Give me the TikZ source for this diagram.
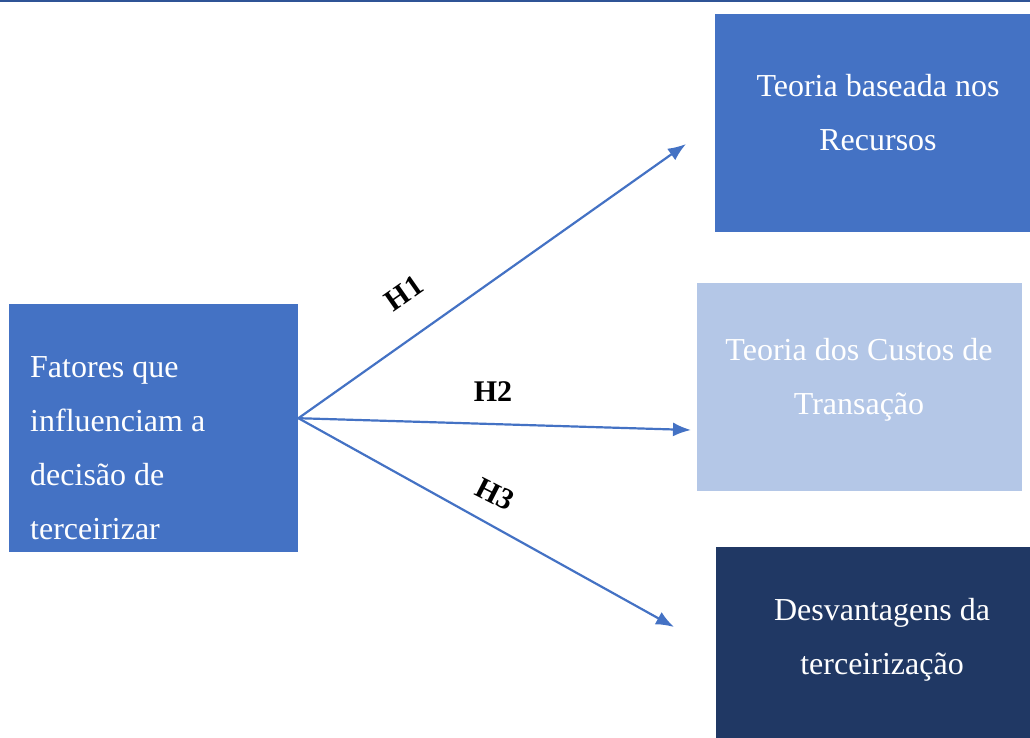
\documentclass[tikz,border=0pt]{standalone}
\usepackage{fontspec}
\setmainfont{Liberation Serif}
\usetikzlibrary{arrows.meta}

\definecolor{boxblue}{HTML}{4472C4}
\definecolor{boxlight}{HTML}{B4C7E7}
\definecolor{boxdark}{HTML}{203864}
\definecolor{rulecol}{HTML}{2F5496}

\begin{document}
\begin{tikzpicture}[x=1pt, y=-1pt, >={Latex[length=18pt,width=14pt]},
  box/.style={rectangle, inner sep=0pt, anchor=north west},
  boxtext/.style={text=white, inner sep=0pt, font=\fontsize{32}{54}\selectfont, align=center},
  hyp/.style={font=\fontsize{30}{36}\selectfont\bfseries},
  link/.style={->, draw=boxblue, line width=2.2pt}]
  \useasboundingbox (0,0) rectangle (1030,738);
  \fill[rulecol] (0,0) rectangle (1030,2.5);

  % boxes
  \node[box, fill=boxblue, minimum width=289pt, minimum height=248pt] (fat) at (9,304) {};
  \node[box, fill=boxblue, minimum width=315pt, minimum height=218pt] (rbv) at (715,14) {};
  \node[box, fill=boxlight, minimum width=325pt, minimum height=208pt] (tct) at (697,283) {};
  \node[box, fill=boxdark, minimum width=314pt, minimum height=191pt] (desv) at (716,547) {};

  % texts
  \node[boxtext, align=left, anchor=north west] (fatTxt) at (30,356) {Fatores que\\influenciam a\\decisão de\\terceirizar};
  \node[boxtext, anchor=north] (rbvTxt) at (878,74) {Teoria baseada nos\\Recursos};
  \node[boxtext, anchor=north] (tctTxt) at (859,338) {Teoria dos Custos de\\Transação};
  \node[boxtext, anchor=north] (desvTxt) at (882,598) {Desvantagens da\\terceirização};

  % hypotheses
  \coordinate (src) at ([yshift=10pt]fat.east);
  \coordinate (endA) at (686,144);
  \coordinate (endB) at (691,430);
  \coordinate (endC) at (674,627);
  \draw[link] (src) -- (endA);
  \draw[link] (src) -- (endB);
  \draw[link] (src) -- (endC);

  \node[hyp, rotate=35] (h1) at (404,293) {H1};
  \node[hyp] (h2) at (493,392) {H2};
  \node[hyp, rotate=-27] (h3) at (495,494) {H3};
\end{tikzpicture}
\end{document}
